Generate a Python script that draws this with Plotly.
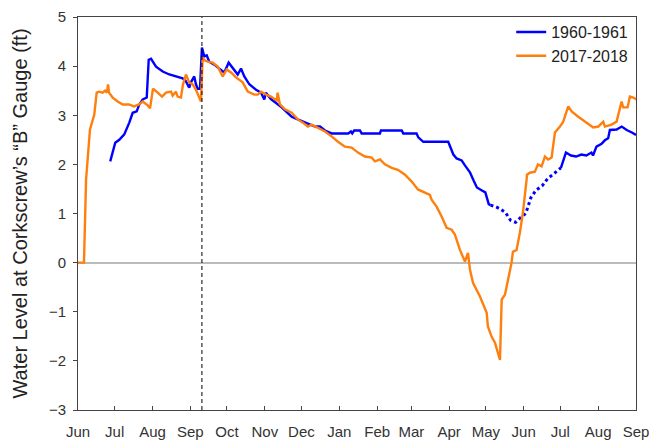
import numpy as np
import pandas as pd
import plotly.graph_objects as go

# days since June 1 of the first year of each season
season_start = pd.Timestamp("2017-06-01")
month_labels = ["Jun", "Jul", "Aug", "Sep", "Oct", "Nov", "Dec", "Jan",
                "Feb", "Mar", "Apr", "May", "Jun", "Jul", "Aug", "Sep"]

days_1718 = [0, 4.9, 6.6, 9.8, 13.3, 15.3, 17.2, 20.2, 22.1, 23.7, 24.6, 25.4, 28.4, 32.5,
             36.6, 41.8, 45.9, 50, 53, 57.1, 59, 61.4, 65.3, 68.8, 72.1, 76.2, 77.5, 80.2,
             81.6, 84.3, 86, 88.4, 91.1, 93.9, 96.6, 98.8, 100.7, 102.1, 103.2, 106.2,
             110.3, 114.4, 118.5, 121.8, 125.3, 129.4, 134.9, 139, 144.4, 147.2, 149.9,
             154, 158, 162.7, 163.5, 165.4, 169.5, 175, 180.2, 184.2, 188.3, 191.4, 196.5,
             202.3, 207.7, 212.9, 218.6, 224.1, 229.3, 235, 240.5, 243.2, 247.3, 251.4,
             256.9, 262, 267.8, 273.3, 278.4, 284.1, 288.2, 289.6, 293.7, 297.8, 301.9,
             306, 308.7, 312.8, 316.9, 319.4, 321, 323.5, 329.2, 334.7, 335.7, 338.8,
             341.5, 345.6, 347, 349.7, 352.1, 355.1, 356.2, 359.2, 361.9, 363.3, 364.4,
             367.4, 367.7, 370.1, 374.2, 376.7, 379.7, 382.4, 385.1, 387.9, 390.6, 394.7,
             397.4, 401.5, 404.3, 409.7, 415.2, 422, 426.1, 430.2, 431.5, 437, 441.1,
             443.8, 445.2, 446.5, 450.1, 452, 454.7, 457.5]
level_1718 = [0, 0, 1.69, 2.71, 3.01, 3.46, 3.48, 3.46, 3.50, 3.46, 3.63, 3.46, 3.36, 3.28,
              3.22, 3.22, 3.18, 3.22, 3.28, 3.20, 3.14, 3.54, 3.46, 3.38, 3.46, 3.48, 3.40,
              3.48, 3.38, 3.36, 3.63, 3.83, 3.67, 3.63, 3.52, 3.38, 3.28, 4.18, 4.13, 4.09,
              4.07, 3.99, 3.79, 3.93, 3.87, 3.77, 3.67, 3.48, 3.42, 3.42, 3.48, 3.42, 3.38,
              3.30, 3.46, 3.22, 3.12, 3.05, 2.91, 2.85, 2.77, 2.81, 2.75, 2.67, 2.57, 2.46,
              2.36, 2.34, 2.24, 2.16, 2.14, 2.06, 2.10, 2.00, 1.93, 1.89, 1.79, 1.65, 1.49,
              1.43, 1.38, 1.28, 1.14, 0.94, 0.71, 0.67, 0.57, 0.26, 0.02, 0.20, -0.14,
              -0.41, -0.69, -1.02, -1.30, -1.51, -1.63, -1.98, -0.75, -0.65, -0.35, 0.0,
              0.22, 0.26, 0.61, 0.81, 1.02, 1.69, 1.79, 1.83, 1.85, 2.00, 1.96, 2.16, 2.10,
              2.14, 2.65, 2.77, 2.87, 3.18, 3.08, 2.97, 2.87, 2.75, 2.77, 2.87, 2.77, 2.81,
              2.87, 3.12, 3.28, 3.16, 3.16, 3.38, 3.36, 3.32]

days_6061 = [26.4, 30.5, 33.8, 37.9, 42, 44.8, 48.1, 50.2, 53, 56.3, 57.9, 59.8, 63.9, 69.4,
             74.8, 80.2, 85.7, 88.4, 91.1, 92.5, 93.9, 95.2, 96.6, 98, 99.9, 101.5, 103.4,
             105.4, 107.5, 111.6, 115.7, 119.8, 123.4, 126.7, 130.8, 133.5, 136.2, 140.3,
             145.8, 149.9, 152.6, 153.9, 158, 166.8, 175, 180.4, 185.9, 190, 194.1, 198.2,
             202.3, 207.7, 221.3, 223.5, 224.6, 226.2, 230.9, 232.3, 247.3, 248.1, 265.1,
             266.4, 277.3, 278.7, 282.8, 303.2, 304.6, 307.4, 310.1, 314.2, 316.9, 321, 324,
             326.7, 330.8, 333.6, 336.4, 337.8, 341.9, 346, 350.1, 354.3, 358.4, 362.6,
             366.7, 370.9, 375, 380.4, 384.6, 388.7, 392.9, 395.5, 398.4, 399.6, 403.7, 408,
             412.2, 416.3, 420.5, 421.8, 424.6, 428.8, 431.5, 434.2, 435.6, 441.1, 445.3,
             449.4, 453.6, 457]
level_6061 = [2.06, 2.44, 2.50, 2.61, 2.85, 3.05, 3.08, 3.22, 3.32, 3.36, 4.13, 4.15, 3.99,
              3.89, 3.83, 3.79, 3.75, 3.69, 3.56, 3.67, 3.73, 3.79, 3.63, 3.54, 3.54, 4.38,
              4.20, 4.22, 4.09, 4.03, 3.95, 3.87, 4.07, 3.97, 3.83, 3.95, 3.79, 3.63, 3.52,
              3.46, 3.32, 3.46, 3.33, 3.16, 2.97, 2.91, 2.85, 2.81, 2.77, 2.77, 2.69, 2.63,
              2.63, 2.67, 2.63, 2.69, 2.69, 2.63, 2.63, 2.69, 2.69, 2.63, 2.63, 2.55, 2.46,
              2.46, 2.36, 2.20, 2.12, 2.08, 1.98, 1.84, 1.67, 1.53, 1.47, 1.43, 1.19, 1.17,
              1.14, 1.09, 1.02, 0.86, 0.82, 0.92, 1.00, 1.32, 1.47, 1.57, 1.71, 1.79, 1.87,
              1.93, 2.18, 2.24, 2.18, 2.16, 2.20, 2.18, 2.24, 2.18, 2.36, 2.42, 2.49, 2.53,
              2.70, 2.71, 2.77, 2.70, 2.65, 2.60]
# 1960-61 stretch drawn dotted (estimated record)
estimated_from, estimated_to = 337.8, 395.5
irma_day = 101.5

to_date = lambda d: season_start + pd.to_timedelta(np.asarray(d), unit="D")

blue = pd.DataFrame({"date": to_date(days_6061), "day": days_6061, "level": level_6061})
inside = (blue["day"] > estimated_from) & (blue["day"] < estimated_to)
solid_6061 = blue["level"].where(~inside)
dotted_6061 = blue["level"].where((blue["day"] >= estimated_from) & (blue["day"] <= estimated_to))

FONT = "Arial, Liberation Sans, sans-serif"
fig = go.Figure()
fig.add_trace(go.Scatter(x=blue["date"], y=solid_6061, mode="lines", name="1960-1961",
                         line=dict(color="#0000FF", width=2.4), connectgaps=False))
fig.add_trace(go.Scatter(x=blue["date"], y=dotted_6061, mode="lines", showlegend=False,
                         line=dict(color="#0000FF", width=3, dash="3px,3px")))
fig.add_trace(go.Scatter(x=to_date(days_1718), y=level_1718, mode="lines", name="2017-2018",
                         line=dict(color="#FF7F0E", width=2.4)))

fig.add_shape(type="line", x0=to_date(irma_day), x1=to_date(irma_day), y0=0, y1=1,
              yref="paper", line=dict(color="black", width=1, dash="4px,3px"))

month_ticks = pd.date_range(season_start, periods=len(month_labels), freq="MS")
fig.update_layout(
    width=649, height=441,
    margin=dict(l=78, r=13, t=17, b=31),
    plot_bgcolor="white", paper_bgcolor="white",
    font=dict(family=FONT, color="#333333", size=15),
    legend=dict(x=0.995, y=1.005, xanchor="right", yanchor="top",
                font=dict(size=16, color="#222222"), bgcolor="rgba(0,0,0,0)",
                tracegroupgap=0, itemwidth=30),
)
fig.update_xaxes(range=[season_start, month_ticks[-1]], tickvals=month_ticks,
                 ticktext=month_labels, ticks="inside", ticklen=4, tickcolor="#444",
                 ticklabelstandoff=8, ticklabeloverflow="allow",
                 showline=True, linecolor="#444", linewidth=1, mirror=True,
                 showgrid=False, zeroline=False, automargin=False)
fig.update_yaxes(range=[-3, 5], dtick=1, ticks="outside", ticklen=4, tickcolor="#444",
                 ticklabelstandoff=4,
                 showline=True, linecolor="#444", linewidth=1, mirror=True,
                 showgrid=False, zeroline=True, zerolinecolor="#BBBBBB", zerolinewidth=2,
                 automargin=False,
                 title=dict(text="Water Level at Corkscrew’s “B” Gauge (ft)",
                            font=dict(size=20, color="#222222"), standoff=15))

# the page body has a default 8px margin; drop it so the figure fills the window
fig.write_html("out.html", config={"displayModeBar": False},
               post_script="document.body.style.margin = '0';")
